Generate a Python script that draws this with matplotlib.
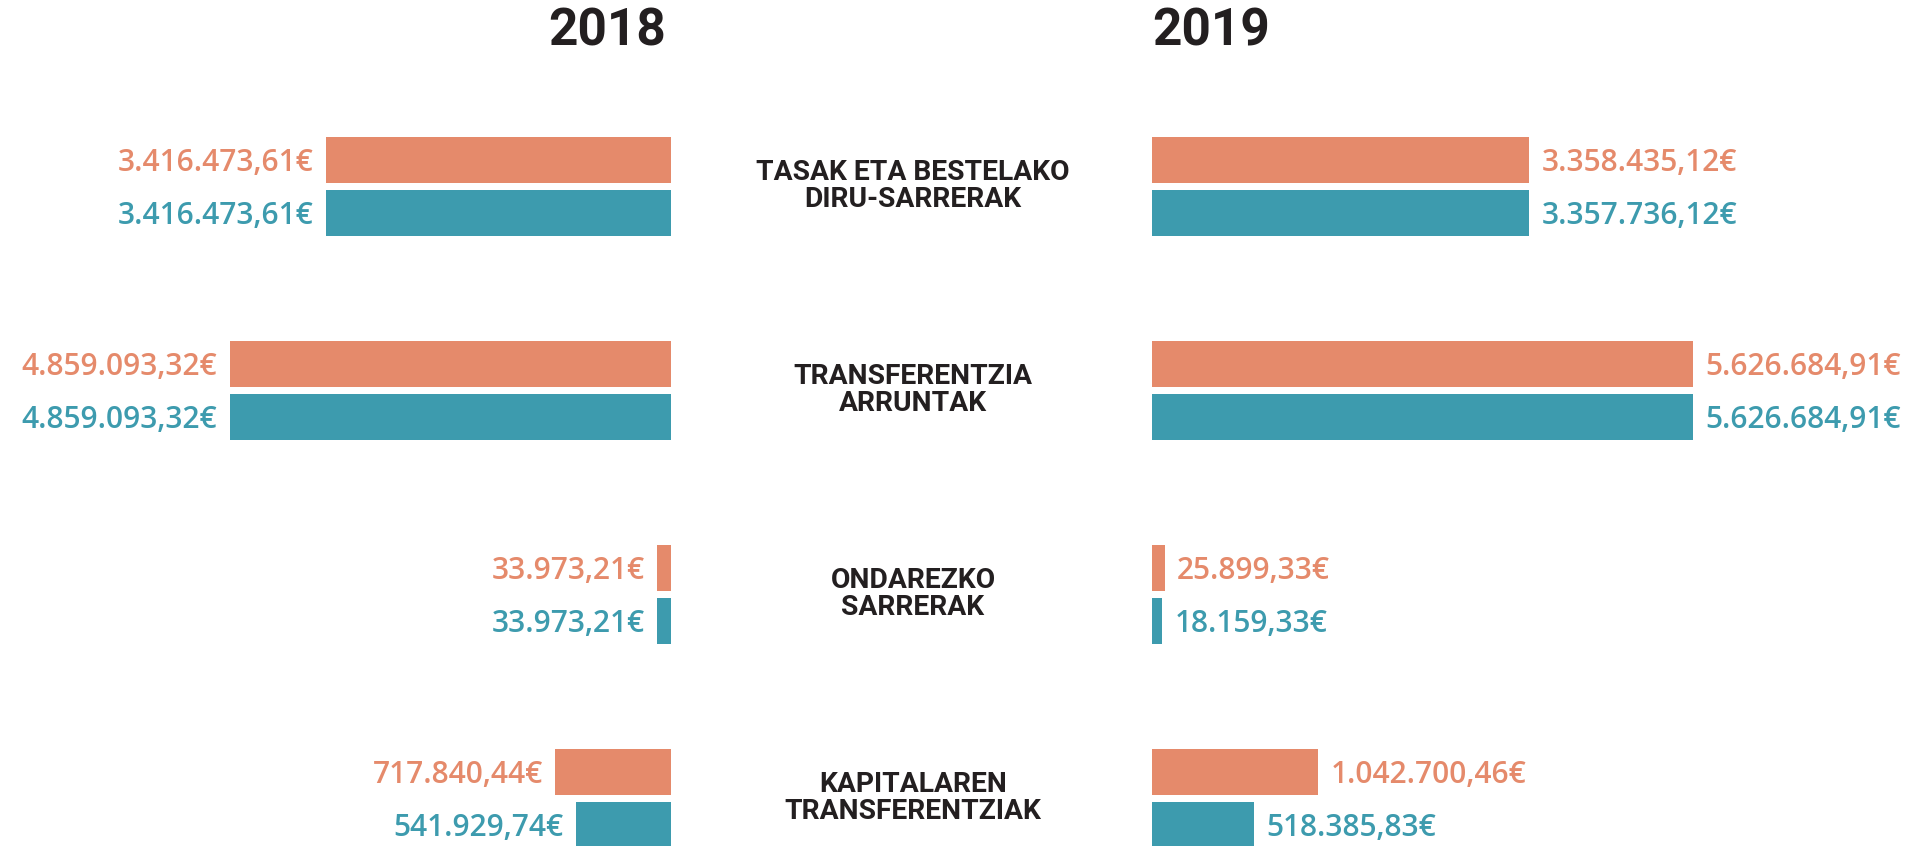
import numpy as np
import matplotlib
matplotlib.use("Agg")
import matplotlib.pyplot as plt
from matplotlib import transforms

categories = ["TASAK ETA BESTELAKO\nDIRU-SARRERAK", "TRANSFERENTZIA\nARRUNTAK",
              "ONDAREZKO\nSARRERAK", "KAPITALAREN\nTRANSFERENTZIAK"]
years = ["2018", "2019"]
orange_2018 = [3416473.61, 4859093.32, 33973.21, 717840.44]
teal_2018 = [3416473.61, 4859093.32, 33973.21, 541929.74]
orange_2019 = [3358435.12, 5626684.91, 25899.33, 1042700.46]
teal_2019 = [3357736.12, 5626684.91, 18159.33, 518385.83]
orange_labels_2018 = ["3.416.473,61€", "4.859.093,32€", "33.973,21€", "717.840,44€"]
teal_labels_2018 = ["3.416.473,61€", "4.859.093,32€", "33.973,21€", "541.929,74€"]
orange_labels_2019 = ["3.358.435,12€", "5.626.684,91€", "25.899,33€", "1.042.700,46€"]
teal_labels_2019 = ["3.357.736,12€", "5.626.684,91€", "18.159,33€", "518.385,83€"]

ORANGE = "#E58A6B"
TEAL = "#3D9BAE"
DARK = "#231F20"

W, H = 1928, 846
fig = plt.figure(figsize=(W / 100, H / 100), dpi=100)

P = 0.7
fwd = lambda v: np.sign(v) * np.abs(v) ** P
inv = lambda v: np.sign(v) * np.abs(v) ** (1 / P)

y = np.arange(len(categories))
off = 0.13
bh = 0.225
ylim = (3.233, -0.914)

axL = fig.add_axes([230 / W, 0, 441 / W, 1])
axR = fig.add_axes([1152 / W, 0, 541 / W, 1])

for ax, o, t, ol, tl, side in [(axL, orange_2018, teal_2018, orange_labels_2018, teal_labels_2018, -1),
                                (axR, orange_2019, teal_2019, orange_labels_2019, teal_labels_2019, 1)]:
    ax.set_xscale("function", functions=(fwd, inv))
    ax.barh(y - off, o, height=bh, color=ORANGE, clip_on=False)
    ax.barh(y + off, t, height=bh, color=TEAL, clip_on=False)
    ax.set_xlim(0, max(max(o), max(t)))
    if side < 0:
        ax.invert_xaxis()
    ax.set_ylim(*ylim)
    ax.axis("off")
    for yy, v, lab, col in list(zip(y - off, o, ol, [ORANGE] * 4)) + list(zip(y + off, t, tl, [TEAL] * 4)):
        ax.annotate(lab, xy=(v, yy), xytext=(9 * side, 0), textcoords="offset points",
                    ha="right" if side < 0 else "left", va="center_baseline",
                    color=col, fontsize=21.5, family=["Open Sans", "DejaVu Sans"],
                    fontweight="semibold", annotation_clip=False)

trans = transforms.blended_transform_factory(fig.transFigure, axL.transData)
for yy, c in zip(y, categories):
    fig.text(913 / W, yy, c, transform=trans, ha="center", va="center",
             fontsize=20.3, family="Roboto", fontweight="bold", color=DARK,
             linespacing=1.0, multialignment="center")

fig.text(666 / W, 1 - 31 / H, years[0], ha="right", va="center",
         fontsize=37, family="Roboto", fontweight="bold", color=DARK)
fig.text(1152 / W, 1 - 31 / H, years[1], ha="left", va="center",
         fontsize=37, family="Roboto", fontweight="bold", color=DARK)

fig.savefig("out.png", dpi=100, facecolor="white")
